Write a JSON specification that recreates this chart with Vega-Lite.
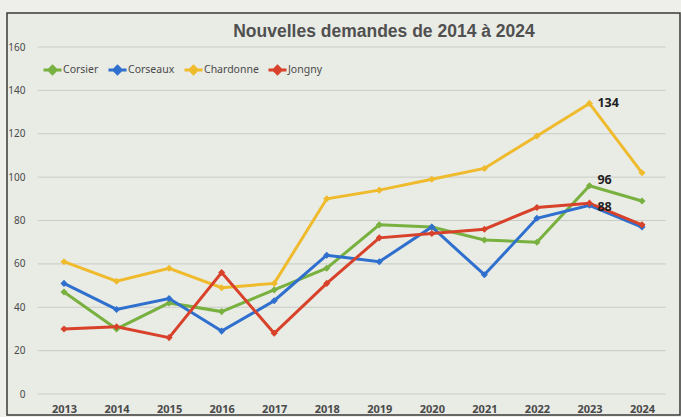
{
  "$schema": "https://vega.github.io/schema/vega-lite/v6.json",
  "width": 673,
  "height": 402,
  "autosize": {"type": "none"},
  "padding": {"left": 7, "top": 13, "right": 1, "bottom": 2},
  "background": "#eeefeb",
  "config": {
    "view": {"fill": "#e9ebe5", "stroke": "#3a3a3a", "strokeWidth": 1.5},
    "font": "Noto Sans"
  },
  "title": {
    "text": "Nouvelles demandes de 2014 à 2024",
    "font": "Liberation Sans",
    "fontSize": 17.5,
    "fontWeight": 900,
    "color": "#505050",
    "orient": "none",
    "anchor": "middle",
    "frame": "group",
    "baseline": "alphabetic",
    "dy": 24,
    "dx": 377
  },
  "datasets": {
    "grid": [
      {"g": 0}, {"g": 20}, {"g": 40}, {"g": 60}, {"g": 80},
      {"g": 100}, {"g": 120}, {"g": 140}, {"g": 160}
    ],
    "series": [
      {"year": 2013, "commune": "Corsier", "value": 47},
      {"year": 2014, "commune": "Corsier", "value": 30},
      {"year": 2015, "commune": "Corsier", "value": 42},
      {"year": 2016, "commune": "Corsier", "value": 38},
      {"year": 2017, "commune": "Corsier", "value": 48},
      {"year": 2018, "commune": "Corsier", "value": 58},
      {"year": 2019, "commune": "Corsier", "value": 78},
      {"year": 2020, "commune": "Corsier", "value": 77},
      {"year": 2021, "commune": "Corsier", "value": 71},
      {"year": 2022, "commune": "Corsier", "value": 70},
      {"year": 2023, "commune": "Corsier", "value": 96, "label": "96"},
      {"year": 2024, "commune": "Corsier", "value": 89},
      {"year": 2013, "commune": "Corseaux", "value": 51},
      {"year": 2014, "commune": "Corseaux", "value": 39},
      {"year": 2015, "commune": "Corseaux", "value": 44},
      {"year": 2016, "commune": "Corseaux", "value": 29},
      {"year": 2017, "commune": "Corseaux", "value": 43},
      {"year": 2018, "commune": "Corseaux", "value": 64},
      {"year": 2019, "commune": "Corseaux", "value": 61},
      {"year": 2020, "commune": "Corseaux", "value": 77},
      {"year": 2021, "commune": "Corseaux", "value": 55},
      {"year": 2022, "commune": "Corseaux", "value": 81},
      {"year": 2023, "commune": "Corseaux", "value": 87},
      {"year": 2024, "commune": "Corseaux", "value": 77},
      {"year": 2013, "commune": "Chardonne", "value": 61},
      {"year": 2014, "commune": "Chardonne", "value": 52},
      {"year": 2015, "commune": "Chardonne", "value": 58},
      {"year": 2016, "commune": "Chardonne", "value": 49},
      {"year": 2017, "commune": "Chardonne", "value": 51},
      {"year": 2018, "commune": "Chardonne", "value": 90},
      {"year": 2019, "commune": "Chardonne", "value": 94},
      {"year": 2020, "commune": "Chardonne", "value": 99},
      {"year": 2021, "commune": "Chardonne", "value": 104},
      {"year": 2022, "commune": "Chardonne", "value": 119},
      {"year": 2023, "commune": "Chardonne", "value": 134, "label": "134"},
      {"year": 2024, "commune": "Chardonne", "value": 102},
      {"year": 2013, "commune": "Jongny", "value": 30},
      {"year": 2014, "commune": "Jongny", "value": 31},
      {"year": 2015, "commune": "Jongny", "value": 26},
      {"year": 2016, "commune": "Jongny", "value": 56},
      {"year": 2017, "commune": "Jongny", "value": 28},
      {"year": 2018, "commune": "Jongny", "value": 51},
      {"year": 2019, "commune": "Jongny", "value": 72},
      {"year": 2020, "commune": "Jongny", "value": 74},
      {"year": 2021, "commune": "Jongny", "value": 76},
      {"year": 2022, "commune": "Jongny", "value": 86},
      {"year": 2023, "commune": "Jongny", "value": 88, "label": "88"},
      {"year": 2024, "commune": "Jongny", "value": 78}
    ]
  },
  "layer": [
    {
      "data": {"name": "grid"},
      "mark": {"type": "rule", "color": "#c9cbc6", "strokeWidth": 1},
      "encoding": {
        "y": {"field": "g", "type": "quantitative", "title": null},
        "x": {"datum": 2012.5, "type": "quantitative"},
        "x2": {"datum": 2024.45}
      }
    },
    {
      "data": {"name": "series"},
      "mark": {
        "type": "line",
        "strokeWidth": 3,
        "point": {"shape": "diamond", "size": 50, "filled": true}
      },
      "encoding": {
        "x": {
          "field": "year",
          "type": "quantitative",
          "title": null,
          "scale": {"domain": [2011.915, 2024.723], "nice": false, "zero": false},
          "axis": {
            "values": [2013, 2014, 2015, 2016, 2017, 2018, 2019, 2020, 2021, 2022, 2023, 2024],
            "format": "d",
            "grid": false,
            "domain": false,
            "ticks": false,
            "tickSize": 0,
            "offset": -6,
            "labelPadding": 0,
            "labelBaseline": "middle",
            "labelFontSize": 11,
            "labelFontWeight": "bold",
            "labelColor": "#4a4a4a",
            "labelFont": "Noto Sans"
          }
        },
        "y": {
          "field": "value",
          "type": "quantitative",
          "title": null,
          "scale": {"domain": [-9.68, 175.68], "nice": false, "zero": false},
          "axis": {
            "values": [0, 20, 40, 60, 80, 100, 120, 140, 160],
            "grid": false,
            "domain": false,
            "ticks": false,
            "tickSize": 0,
            "offset": -18,
            "labelPadding": 0,
            "labelAlign": "right",
            "labelFontSize": 10,
            "labelColor": "#4a4a4a",
            "labelFont": "Noto Sans"
          }
        },
        "color": {
          "field": "commune",
          "type": "nominal",
          "scale": {
            "domain": ["Corsier", "Corseaux", "Chardonne", "Jongny"],
            "range": ["#78b13f", "#2f6fce", "#efbb2c", "#d8412a"]
          },
          "legend": {
            "title": null,
            "orient": "none",
            "direction": "horizontal",
            "legendX": 35,
            "legendY": 46,
            "padding": 0,
            "symbolType": "M-1,0H1M0,-0.4L0.4,0L0,0.4L-0.4,0Z",
            "symbolSize": 324,
            "symbolStrokeWidth": 3,
            "labelOffset": 0,
            "labelFontSize": 10.5,
            "labelColor": "#4a4a4a",
            "labelFont": "Noto Sans",
            "columnPadding": 3
          }
        },
        "order": {"field": "year", "type": "quantitative"}
      }
    },
    {
      "data": {"name": "series"},
      "transform": [{"filter": "datum.label == '134'"}],
      "mark": {"type": "text", "align": "left", "baseline": "middle", "dx": 8, "dy": 0, "fontSize": 12.5, "fontWeight": "bold", "color": "#1e1e1e"},
      "encoding": {
        "x": {"field": "year", "type": "quantitative"},
        "y": {"field": "value", "type": "quantitative"},
        "text": {"field": "label"}
      }
    },
    {
      "data": {"name": "series"},
      "transform": [{"filter": "datum.label == '96'"}],
      "mark": {"type": "text", "align": "left", "baseline": "middle", "dx": 8, "dy": -6, "fontSize": 12.5, "fontWeight": "bold", "color": "#1e1e1e"},
      "encoding": {
        "x": {"field": "year", "type": "quantitative"},
        "y": {"field": "value", "type": "quantitative"},
        "text": {"field": "label"}
      }
    },
    {
      "data": {"name": "series"},
      "transform": [{"filter": "datum.label == '88'"}],
      "mark": {"type": "text", "align": "left", "baseline": "middle", "dx": 8, "dy": 4, "fontSize": 12.5, "fontWeight": "bold", "color": "#1e1e1e"},
      "encoding": {
        "x": {"field": "year", "type": "quantitative"},
        "y": {"field": "value", "type": "quantitative"},
        "text": {"field": "label"}
      }
    }
  ]
}
